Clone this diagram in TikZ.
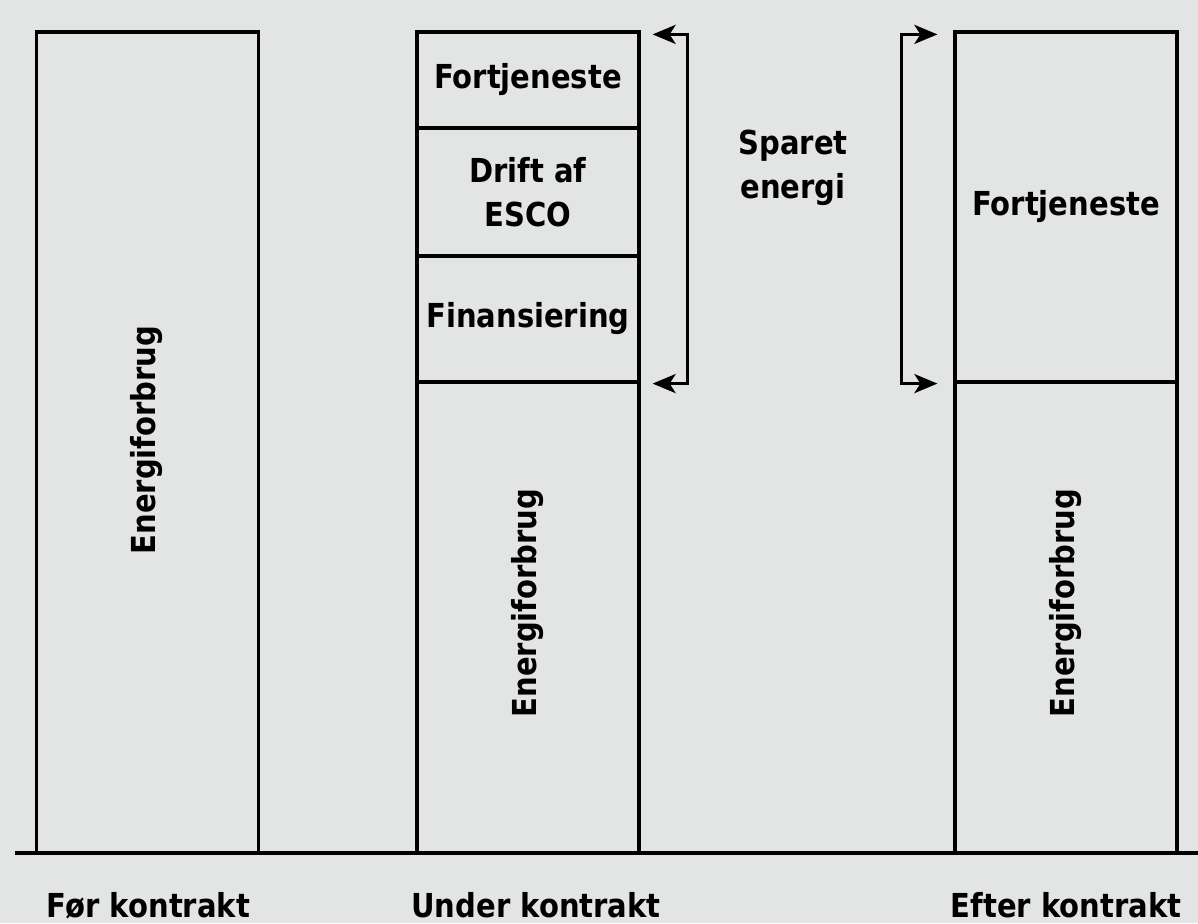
\documentclass[tikz,border=0pt]{standalone}
\usepackage{fontspec}
\setmainfont{DejaVu Sans}[FakeStretch=0.88]
\usetikzlibrary{arrows.meta}
\definecolor{bggrey}{RGB}{227,229,228}
\begin{document}
\begin{tikzpicture}[x=1pt, y=-1pt]
	\tikzstyle{bar} = [ draw, rectangle, line width=3.2pt, minimum width=222pt, inner sep=0pt, font={\bfseries\fontsize{33}{44}\selectfont}, align=center];
	\tikzstyle{info} = [ font={\bfseries\fontsize{33}{44}\selectfont}, align=center];
	\tikzstyle{vert} = [ info, rotate=90];
	\tikzstyle{span} = [ {Stealth[length=23pt,width=19pt,inset=6pt]}-{Stealth[length=23pt,width=19pt,inset=6pt]}, line width=3.2pt];

	\fill[bggrey] (0,0) rectangle (1198,923);
	\useasboundingbox (0,0) rectangle (1198,923);

	% foer kontrakt
	\node[bar, minimum height=821pt] (for1) at (147.5,442.5) {};
	\node[vert] (e1) at (147,440) {Energiforbrug};

	% under kontrakt
	\node[bar, minimum height=96pt] (fort2) at (528,80) {Fortjeneste};
	\node[bar, minimum height=128pt] (drift) at (528,192) {Drift af\\ESCO};
	\node[bar, minimum height=126pt] (finans) at (528,319) {Finansiering};
	\node[bar, minimum height=471pt] (for2) at (528,617.5) {};
	\node[vert] (e2) at (528,603) {Energiforbrug};

	% efter kontrakt
	\node[bar, minimum height=350pt] (fort3) at (1066,207) {Fortjeneste};
	\node[bar, minimum height=471pt] (for3) at (1066,617.5) {};
	\node[vert] (e3) at (1066,603) {Energiforbrug};

	\node[info] (sparet) at (793,168) {Sparet\\energi};

	\draw[span] ([shift={(12,4)}]fort2.north east) -- ++(35,0) |- ([xshift=12]finans.south east);
	\draw[span] ([shift={(-16,4)}]fort3.north west) -- ++(-36,0) |- ([xshift=-16]fort3.south west);

	\coordinate (g0) at (15,853);
	\coordinate (g1) at (1198,853);
	\draw[line width=3.2pt] (g0) -- (g1);

	\node[info, anchor=base] (t1) at (148.5,917) {Før kontrakt};
	\node[info, anchor=base] (t2) at (536,917) {Under kontrakt};
	\node[info, anchor=base] (t3) at (1066,917) {Efter kontrakt};
\end{tikzpicture}
\end{document}
